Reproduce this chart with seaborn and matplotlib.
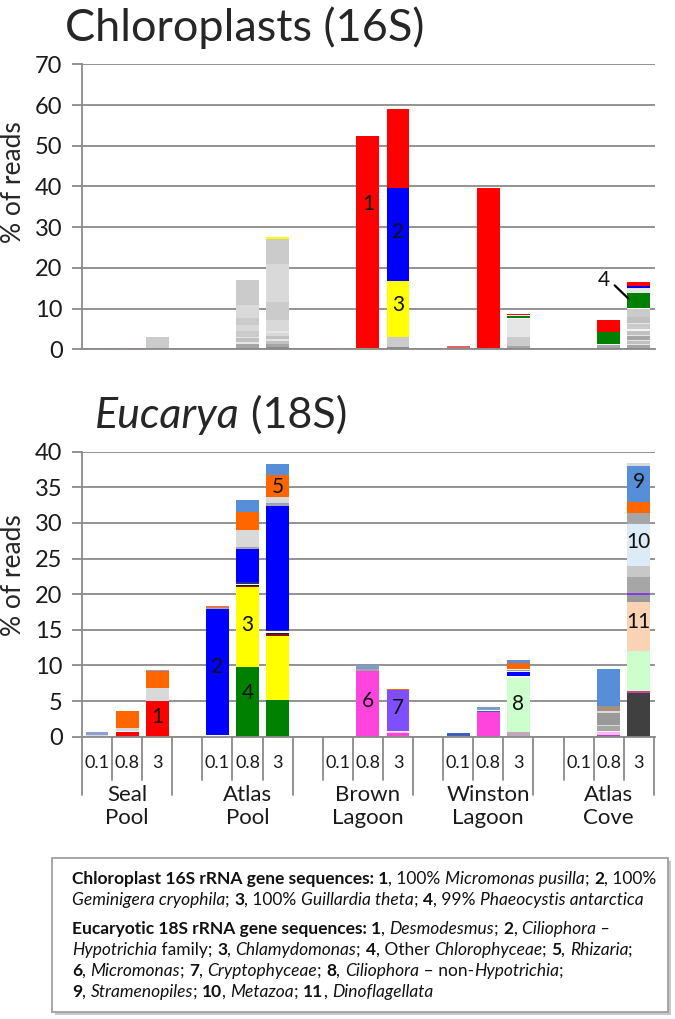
import matplotlib
matplotlib.use("Agg")
import numpy as np
import pandas as pd
import matplotlib.pyplot as plt
import seaborn as sns
from matplotlib.font_manager import FontProperties
from matplotlib.patches import Rectangle

sns.set_theme(style="white")
plt.rcParams["font.family"] = ["Lato", "DejaVu Sans"]

GRID = "#8A8A8A"

# ---- categories -------------------------------------------------------------
sites = ["Seal\nPool", "Atlas\nPool", "Brown\nLagoon", "Winston\nLagoon", "Atlas\nCove"]
fractions = ["0.1", "0.8", "3"]

# ---- chloroplast 16S: segment heights (bottom -> top), per site, per fraction ----
chl_seal_h = [[], [0.3], [0.2, 2.9]]
chl_seal_t = [[], ["o_red"], ["o_mid", "o_b"]]

chl_atlas_h = [[0.15],
               [0.4, 0.8, 0.5, 1.0, 0.4, 1.3, 1.5, 1.7, 3.3, 6.2],
               [0.5, 0.7, 0.8, 0.5, 0.7, 0.7, 0.6, 2.7, 4.4, 9.4, 6.2, 0.3]]
chl_atlas_t = [["o_mid"],
               ["o_dark", "o_mid", "o_d", "o_a", "o_d", "o_b", "o_c", "o_b", "o_c", "o_b"],
               ["o_dark", "o_mid", "o_a", "o_d", "o_a", "o_c", "o_d", "o_c", "o_b", "o_c", "o_b",
                "Guillardia"]]

chl_brown_h = [[0.2], [0.25, 52.25], [0.5, 2.4, 13.8, 22.8, 19.5]]
chl_brown_t = [["o_red"], ["Guillardia", "Micromonas"],
               ["o_dark", "o_b", "Guillardia", "Geminigera", "Micromonas"]]

chl_winston_h = [[0.4, 0.3], [0.3, 39.4], [0.4, 0.5, 2.1, 4.5, 0.2, 0.4, 0.3, 0.3]]
chl_winston_t = [["o_mid", "o_red"], ["o_dark", "Micromonas"],
                 ["o_dark", "o_mid", "o_b", "o_d", "o_e", "Phaeocystis", "o_e", "Micromonas"]]

chl_cove_h = [[0.2],
              [0.3, 0.7, 0.3, 2.9, 0.15, 2.85],
              [0.4, 0.6, 0.4, 0.6, 0.4, 0.8, 0.4, 1.0, 0.3, 1.2, 0.3, 1.5, 1.9,
               0.3, 3.8, 1.1, 0.6, 1.0]]
chl_cove_t = [["o_red"],
              ["o_dark", "o_mid", "o_e", "Phaeocystis", "Geminigera", "Micromonas"],
              ["o_dark", "o_mid", "o_d", "o_a", "o_d", "o_mid", "o_d", "o_a", "o_e", "o_b", "o_d",
               "o_a", "o_b", "o_e", "Phaeocystis", "o_d", "Geminigera", "Micromonas"]]

# ---- eukaryotic 18S ------------------------------------------------------------
euk_seal_h = [[0.3, 0.3], [0.6, 0.15, 0.45, 2.4], [0.15, 4.85, 1.9, 2.3, 0.2]]
euk_seal_t = [["o_lgray", "o_lavender"],
              ["Desmodesmus", "o_white", "o_lgray", "Rhizaria"],
              ["Rhizaria", "Desmodesmus", "o_lgray", "Rhizaria", "o_lavender"]]

euk_atlas_h = [[0.25, 17.65, 0.15, 0.35],
               [9.8, 11.2, 0.2, 0.1, 0.2, 0.15, 4.65, 0.3, 2.4, 2.6, 1.6],
               [5.1, 9.1, 0.25, 0.1, 0.3, 0.15, 17.4, 0.2, 0.2, 0.9, 3.1, 1.5]]
euk_atlas_t = [["o_white", "Hypotrichia", "o_gray", "o_salmon"],
               ["Chlorophyceae", "Chlamydomonas", "o_darkred", "o_black", "o_white", "o_navy",
                "Hypotrichia", "o_gray", "o_lgray", "Rhizaria", "Stramenopiles"],
               ["Chlorophyceae", "Chlamydomonas", "o_darkred", "o_black", "o_white", "o_navy",
                "Hypotrichia", "o_gray", "o_lavender", "o_lgray", "Rhizaria", "Stramenopiles"]]

euk_brown_h = [[], [9.2, 0.3, 0.5], [0.5, 0.2, 0.15, 5.7, 0.1]]
euk_brown_t = [[], ["Micromonas", "o_gray", "o_slate"],
               ["Micromonas", "o_pink", "o_white", "Cryptophyceae", "Rhizaria"]]

euk_winston_h = [[0.15, 0.4], [3.5, 0.15, 0.15, 0.4],
                 [0.6, 7.7, 0.15, 0.6, 0.15, 0.2, 0.1, 0.8, 0.1, 0.4]]
euk_winston_t = [["o_lgray", "o_royal"], ["Micromonas", "o_royal", "o_white", "o_slate"],
                 ["o_mauve", "non_Hypotrichia", "o_white", "Hypotrichia", "o_white", "o_slate",
                  "o_white", "Rhizaria", "o_white", "Stramenopiles"]]

euk_cove_h = [[], [0.3, 0.3, 0.15, 0.75, 0.2, 1.6, 0.3, 0.7, 5.2],
              [6.2, 0.25, 5.6, 6.85, 0.95, 0.35, 2.2, 1.5, 6.0, 1.5, 1.5, 5.05, 0.5]]
euk_cove_t = [[], ["o_violet", "o_pink", "o_white", "o_gray", "o_lgray", "o_gray2", "o_lgray",
                   "o_brown", "Stramenopiles"],
              ["o_dark", "o_magline", "non_Hypotrichia", "Dinoflagellata", "o_gray2", "o_purple",
               "o_gray", "o_lgray2", "Metazoa", "o_gray", "Rhizaria", "Stramenopiles", "o_lgray"]]

# ---- bar number labels: (text, slot, y) ----------------------------------------
chl_labels = [("1", 9, 35.7), ("2", 10, 28.9), ("3", 10, 10.8), ("4", 16.85, 17.0)]
euk_labels = [("1", 2, 2.8), ("2", 4, 9.8), ("3", 5, 15.7), ("4", 5, 6.1), ("5", 6, 35.1),
              ("6", 9, 5.0), ("7", 10, 4.0), ("8", 14, 4.6), ("9", 18, 35.7),
              ("10", 18, 27.3), ("11", 18, 16.1)]

# ---- colours ---------------------------------------------------------------------
chl_colors = {
    "Micromonas": "#FF0000", "Geminigera": "#0000FF", "Guillardia": "#FFFF00",
    "Phaeocystis": "#008000", "o_red": "#E06666", "o_dark": "#8C8C8C", "o_mid": "#A6A6A6",
    "o_a": "#C0C0C0", "o_b": "#CBCBCB", "o_c": "#D9D9D9", "o_d": "#E6E6E6", "o_e": "#F4F4F4",
}
euk_colors = {
    "Desmodesmus": "#FF0000", "Hypotrichia": "#0000FF", "Chlamydomonas": "#FFFF00",
    "Chlorophyceae": "#008000", "Rhizaria": "#FF6600", "Micromonas": "#FF44DD",
    "Cryptophyceae": "#7F4FFF", "non_Hypotrichia": "#CCFFCC", "Stramenopiles": "#568FD8",
    "Metazoa": "#DDEBF7", "Dinoflagellata": "#FAD2B4",
    "o_dark": "#404040", "o_gray": "#A6A6A6", "o_gray2": "#999999", "o_lgray": "#D9D9D9",
    "o_lgray2": "#C8C8C8", "o_white": "#F5F5F5", "o_navy": "#1F2F8F", "o_darkred": "#8B1010",
    "o_black": "#202020", "o_salmon": "#E07850", "o_lavender": "#8E9FD8", "o_slate": "#7F9CC6",
    "o_mauve": "#C0A8B8", "o_pink": "#FFB8F0", "o_violet": "#B040C8", "o_brown": "#A89080",
    "o_purple": "#8040E0", "o_magline": "#D040A0", "o_royal": "#3F5FC0",
}


def build_table(heights, taxa, tag):
    rows = []
    for i, (site_h, site_t) in enumerate(zip(heights, taxa)):
        for j, (h_list, t_list) in enumerate(zip(site_h, site_t)):
            slot = 4 * i + j  # one blank slot between sites
            for k, (h, t) in enumerate(zip(h_list, t_list)):
                rows.append(dict(slot=slot, layer=k, height=h, taxon=t, seg=f"{tag}{slot}-{k}"))
    return pd.DataFrame(rows)


chl = build_table([chl_seal_h, chl_atlas_h, chl_brown_h, chl_winston_h, chl_cove_h],
                  [chl_seal_t, chl_atlas_t, chl_brown_t, chl_winston_t, chl_cove_t], "c")
euk = build_table([euk_seal_h, euk_atlas_h, euk_brown_h, euk_winston_h, euk_cove_h],
                  [euk_seal_t, euk_atlas_t, euk_brown_t, euk_winston_t, euk_cove_t], "e")


def draw_stack(ax, df, colors, ymax, ystep):
    # histplot stacks the last hue level at the bottom
    order = df.sort_values(["layer", "slot"], ascending=[False, True])["seg"].tolist()
    pal = {s: colors[t] for s, t in zip(df["seg"], df["taxon"])}
    sns.histplot(data=df, x="slot", weights="height", hue="seg", hue_order=order,
                 palette=pal, multiple="stack", discrete=True, shrink=0.76, alpha=1,
                 linewidth=0, edgecolor="none", legend=False, ax=ax)
    ax.set_xlim(-0.5, 18.54)
    ax.set_ylim(0, ymax)
    ax.set_yticks(np.arange(0, ymax + 1, ystep))
    ax.set_axisbelow(True)
    ax.yaxis.grid(True, color=GRID, lw=1.3)
    ax.set_xlabel("")
    ax.set_ylabel("")
    ax.set_xticks([])
    for s in ["top", "right"]:
        ax.spines[s].set_visible(False)
    for s in ["left", "bottom"]:
        ax.spines[s].set_color(GRID)
        ax.spines[s].set_linewidth(1.3)
    ax.tick_params(axis="y", left=True, length=7, width=1.3, color=GRID, pad=7,
                   labelsize=17, labelcolor="#1a1a1a")


fig = plt.figure(figsize=(6.75, 10.19), dpi=100)
W, H = 675, 1019
ax_top = fig.add_axes([82 / W, 1 - 349.3 / H, 573 / W, 285 / H])
ax_bot = fig.add_axes([82 / W, 1 - 736.7 / H, 573 / W, 285 / H])

draw_stack(ax_top, chl, chl_colors, 70, 10)
draw_stack(ax_bot, euk, euk_colors, 40, 5)

for txt, x, y in chl_labels:
    ax_top.text(x, y, txt, ha="center", va="center", fontsize=15, color="#111111")
ax_top.plot([17.2, 17.65], [15.7, 12.5], color="black", lw=1.6)
for txt, x, y in euk_labels:
    ax_bot.text(x, y, txt, ha="center", va="center", fontsize=15, color="#111111")

# titles and axis labels
r = fig.canvas.get_renderer()
fig.text(65 / W, 1 - 41 / H, "Chloroplasts (16S)", fontsize=32.5, ha="left", va="baseline")
fig.text(95 / W, 1 - 428 / H, "Eucarya", fontsize=31, fontstyle="italic", ha="left",
         va="baseline")
fp_it = FontProperties(family=["Lato", "DejaVu Sans"], size=31, style="italic")
w_euc = r.get_text_width_height_descent("Eucarya", fp_it, ismath=False)[0]
fig.text(95 / W + w_euc / fig.bbox.width, 1 - 428 / H, " (18S)", fontsize=31, ha="left",
         va="baseline")
fig.text(14 / W, 1 - 182 / H, "% of reads", rotation=90, fontsize=19, ha="center", va="center")
fig.text(14 / W, 1 - 575 / H, "% of reads", rotation=90, fontsize=19, ha="center", va="center")

# multi-level category axis under the bottom chart
xt = ax_bot.get_xaxis_transform()
px = 1 / 285.0
edges = [-0.5, 2.5, 6.5, 10.5, 14.5, 18.5]
for e in edges:
    ax_bot.plot([e, e], [0, -58 * px], transform=xt, color=GRID, lw=1.3, clip_on=False)
for a, b in zip(edges[:-1], edges[1:]):
    for d in np.arange(a + 1, b):
        ax_bot.plot([d, d], [0, -43 * px], transform=xt, color=GRID, lw=1.3, clip_on=False)
for i, site in enumerate(sites):
    for j, frac in enumerate(fractions):
        ax_bot.text(4 * i + j, -26 * px, frac, transform=xt, ha="center", va="center",
                    fontsize=13, color="#1a1a1a")
    ax_bot.text(4 * i + 1, -70 * px, site, transform=xt, ha="center", va="center",
                fontsize=16, linespacing=1.2, color="#1a1a1a")

# caption box
box_l, box_r, box_t, box_b = 52, 668, 858, 1012
fig.patches.append(Rectangle(((box_l + 3) / W, 1 - (box_b + 3) / H), (box_r - box_l) / W,
                             (box_b - box_t) / H, transform=fig.transFigure,
                             facecolor="#C8C8C8", edgecolor="none", zorder=0))
fig.patches.append(Rectangle((box_l / W, 1 - box_b / H), (box_r - box_l) / W,
                             (box_b - box_t) / H, transform=fig.transFigure,
                             facecolor="white", edgecolor="#A0A0A0", lw=1.3, zorder=1))

caption = [
    (884, [("Chloroplast 16S rRNA gene sequences: 1", "b"), (", 100% ", "r"),
           ("Micromonas pusilla", "i"), ("; ", "r"), ("2", "b"), (", 100%", "r")]),
    (905, [("Geminigera cryophila", "i"), ("; ", "r"), ("3", "b"), (", 100% ", "r"),
           ("Guillardia theta", "i"), ("; ", "r"), ("4", "b"), (", 99% ", "r"),
           ("Phaeocystis antarctica", "i")]),
    (934, [("Eucaryotic 18S rRNA gene sequences: 1", "b"), (", ", "r"), ("Desmodesmus", "i"),
           ("; ", "r"), ("2", "b"), (", ", "r"), ("Ciliophora –", "i")]),
    (955, [("Hypotrichia", "i"), (" family; ", "r"), ("3", "b"), (", ", "r"),
           ("Chlamydomonas", "i"), ("; ", "r"), ("4", "b"), (", Other ", "r"),
           ("Chlorophyceae", "i"), ("; ", "r"), ("5", "b"), (", ", "r"), ("Rhizaria", "i"),
           (";", "r")]),
    (976, [("6", "b"), (", ", "r"), ("Micromonas", "i"), ("; ", "r"), ("7", "b"), (", ", "r"),
           ("Cryptophyceae", "i"), ("; ", "r"), ("8", "b"), (", ", "r"), ("Ciliophora", "i"),
           (" – non-", "r"), ("Hypotrichia", "i"), (";", "r")]),
    (997, [("9", "b"), (", ", "r"), ("Stramenopiles", "i"), ("; ", "r"), ("10", "b"),
           (", ", "r"), ("Metazoa", "i"), ("; ", "r"), ("11", "b"), (", ", "r"),
           ("Dinoflagellata", "i")]),
]
CAP_SIZE = 12.5
for yb, pieces in caption:
    x = 72
    for txt, st in pieces:
        fp = FontProperties(family=["Lato", "DejaVu Sans"], size=CAP_SIZE,
                            weight="bold" if st == "b" else "normal",
                            style="italic" if st == "i" else "normal")
        fig.text(x / W, 1 - yb / H, txt, fontproperties=fp, ha="left", va="baseline",
                 color="#111111", zorder=3)
        w1 = r.get_text_width_height_descent("|" + txt + "|", fp, ismath=False)[0]
        w0 = r.get_text_width_height_descent("||", fp, ismath=False)[0]
        x += w1 - w0

fig.savefig("out.png", dpi=100)
